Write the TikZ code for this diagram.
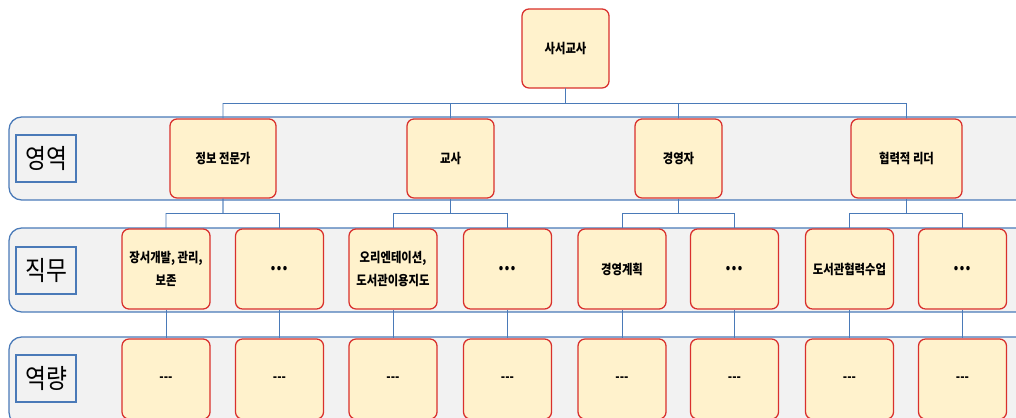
\documentclass[tikz,border=0pt]{standalone}
\usepackage{fontspec}
\newfontfamily\kr[FakeStretch=0.85]{Noto Sans CJK KR}
\usetikzlibrary{calc}
\definecolor{boxfill}{HTML}{FFF2CC}
\definecolor{boxline}{HTML}{D9302C}
\definecolor{bandfill}{HTML}{F2F2F2}
\definecolor{bandline}{HTML}{4A7AB8}
\tikzset{
duty/.style={draw=boxline, fill=boxfill, line width=0.9pt, rounded corners=5pt, inner sep=1pt, align=center, minimum width=2.2cm, minimum height=2cm, font=\kr\bfseries\fontsize{9.5}{16}\selectfont},
more/.style={duty, font=\kr\bfseries\fontsize{14}{16}\selectfont},
band/.style={draw=bandline, fill=bandfill, line width=0.9pt, rounded corners=9pt},
tag/.style={draw=bandline, line width=0.9pt, minimum width=1.5cm, minimum height=1.17cm, inner sep=0pt, font=\kr\fontsize{19}{22}\selectfont},
tree/.style={draw=bandline, line width=0.6pt, to path={(\tikztostart) -- ($(\tikztostart)!.5!(\tikztostart|-\tikztotarget)$) -| (\tikztotarget)}},
}

\begin{document}
\begin{tikzpicture}[x=0.025cm, y=-0.025cm]
    \useasboundingbox (0,0) rectangle (1016,418);
    \clip (0,0) rectangle (1016,418);

    %bands
    \path[band] (9,117) rectangle (1040,200);
    \path[band] (9,228) rectangle (1040,312);
    \path[band] (9,337) rectangle (1040,425);

    %row labels
    \node[tag] (area) at (46,158.5) {영역};
    \node[tag] (task) at (46,270.5) {직무};
    \node[tag] (skill) at (46,378.5) {역량};

    %top
    \node[duty, minimum width=2.175cm, minimum height=1.975cm] (top) at (565.5,48.5) {사서교사};

    %areas
    \node[duty, minimum width=2.65cm, minimum height=1.975cm] (a1) at (223,158.5) {정보 전문가};
    \node[duty, minimum width=2.175cm, minimum height=1.975cm] (a2) at (450.5,158.5) {교사};
    \node[duty, minimum width=2.175cm, minimum height=1.975cm] (a3) at (678.5,158.5) {경영자};
    \node[duty, minimum width=2.775cm, minimum height=1.975cm] (a4) at (906.5,158.5) {협력적 리더};

    %tasks
    \node[duty] (t1) at (166,269) {장서개발, 관리,\\보존};
    \node[more] (t2) at (279.5,269) {...};
    \node[duty] (t3) at (393,269) {오리엔테이션,\\도서관이용지도};
    \node[more] (t4) at (507.5,269) {...};
    \node[duty] (t5) at (622,269) {경영계획};
    \node[more] (t6) at (734.5,269) {...};
    \node[duty] (t7) at (849.5,269) {도서관협력수업};
    \node[more] (t8) at (962.5,269) {...};

    %skills
    \node[duty] (s1) at (166,379) {-{}-{}-};
    \node[duty] (s2) at (279.5,379) {-{}-{}-};
    \node[duty] (s3) at (393,379) {-{}-{}-};
    \node[duty] (s4) at (507.5,379) {-{}-{}-};
    \node[duty] (s5) at (622,379) {-{}-{}-};
    \node[duty] (s6) at (734.5,379) {-{}-{}-};
    \node[duty] (s7) at (849.5,379) {-{}-{}-};
    \node[duty] (s8) at (962.5,379) {-{}-{}-};

    %top to areas
    \draw[tree] (top.south) to (a1.north);
    \draw[tree] (top.south) to (a2.north);
    \draw[tree] (top.south) to (a3.north);
    \draw[tree] (top.south) to (a4.north);

    %areas to tasks
    \draw[tree] (a1.south) to (t1.north);
    \draw[tree] (a1.south) to (t2.north);
    \draw[tree] (a2.south) to (t3.north);
    \draw[tree] (a2.south) to (t4.north);
    \draw[tree] (a3.south) to (t5.north);
    \draw[tree] (a3.south) to (t6.north);
    \draw[tree] (a4.south) to (t7.north);
    \draw[tree] (a4.south) to (t8.north);

    %tasks to skills
    \draw[tree] (t1.south) -- (s1.north);
    \draw[tree] (t2.south) -- (s2.north);
    \draw[tree] (t3.south) -- (s3.north);
    \draw[tree] (t4.south) -- (s4.north);
    \draw[tree] (t5.south) -- (s5.north);
    \draw[tree] (t6.south) -- (s6.north);
    \draw[tree] (t7.south) -- (s7.north);
    \draw[tree] (t8.south) -- (s8.north);

\end{tikzpicture}
\end{document}
